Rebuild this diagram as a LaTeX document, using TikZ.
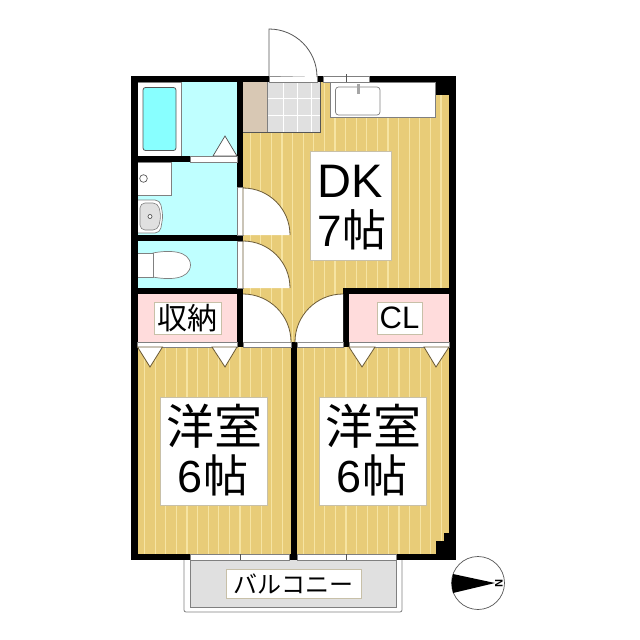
\documentclass[tikz,border=0pt]{standalone}
\usepackage{fontspec}
\setmainfont{Noto Sans CJK JP}
\newfontfamily\latinfont{Liberation Sans}
\definecolor{floorc}{HTML}{E8CC78}
\definecolor{stripec}{HTML}{F6E4A2}
\definecolor{aqua}{HTML}{BFFFFF}
\definecolor{tubc}{HTML}{88FFFF}
\definecolor{pinkc}{HTML}{FFDCDC}
\definecolor{tanc}{HTML}{D8C8B4}
\definecolor{tilec}{HTML}{E0E0E0}
\definecolor{balc}{HTML}{E0E0E0}
\definecolor{linec}{HTML}{555555}
\definecolor{doorc}{HTML}{6B5A35}
\definecolor{boxc}{HTML}{C8C0A8}
\tikzset{
  wall/.style={fill=black,draw=none},
  fixture/.style={fill=white,draw=linec,line width=0.7pt},
  doorleaf/.style={fill=white,draw=doorc,line width=0.8pt},
  strip/.style={fill=white,draw=gray,line width=0.7pt},
  labelbox/.style={fill=white,draw=boxc,line width=0.7pt,inner sep=0pt,align=center},
}
\begin{document}
\begin{tikzpicture}[x=1pt,y=-1pt]
\useasboundingbox (0,0) rectangle (640,640);
\fill[white] (0,0) rectangle (640,640);
% balcony
\draw[draw=gray,fill=white,line width=0.8pt,rounded corners=2pt] (184,556) rectangle (402,612);
\draw[draw=gray,fill=balc,line width=0.7pt] (190,556) rectangle (396,607);
% floors
\fill[floorc] (137,82) rectangle (449,554);
\foreach \i in {0,...,18} {\fill[stripec] ({249.5+10.6*\i},82) rectangle ({250.7+10.6*\i},347);}
\foreach \i in {0,...,29} {\fill[stripec] ({144+10.6*\i},347) rectangle ({145.2+10.6*\i},554);}
% wet rooms
\fill[aqua] (137,82) rectangle (237,288);
\fill[pinkc] (137,294) rectangle (237,342);
\fill[pinkc] (349,294) rectangle (449,342);
% bath
\draw[fixture,draw=gray] (137,82) rectangle (181,156);
\draw[draw=linec,fill=tubc,line width=0.8pt,rounded corners=2.5pt] (143,87.5) rectangle (176,150.5);
\draw[fixture] (213,156) -- (225,136) -- (237,156) -- cycle;
% wash
\draw[fixture,draw=gray] (137,162) rectangle (171,195.5);
\draw[fixture] (143.5,178.5) circle (3.8);
\draw[fixture,draw=gray,rounded corners=5pt] (137,200) -- (160,200) -- (163,216) -- (160,233) -- (137,233);
\draw[draw=gray,fill=tilec,line width=0.6pt,rounded corners=5pt] (140,203) -- (158,203) -- (161,216) -- (158,230) -- (140,230) -- cycle;
\draw[fixture] (150,216.5) circle (2);
% toilet
\draw[fixture,draw=gray] (153,253) .. controls (168,250) and (190,250) .. (190.5,265) .. controls (190,280) and (168,280) .. (153,277) -- cycle;
\draw[fixture,draw=gray] (137,253) rectangle (153,277);
% entry
\fill[tanc] (243,82) rectangle (267,132);
\fill[tilec] (267,82) rectangle (320,132);
\foreach \x in {283,297,311} {\draw[white,line width=0.8pt] (\x,82) -- (\x,132);}
\foreach \y in {98,115} {\draw[white,line width=0.8pt] (267,\y) -- (320,\y);}
\draw[linec,line width=0.7pt] (243,132) -- (320,132) -- (320,82);
\draw[gray,line width=0.7pt] (267,82) -- (267,132);
% kitchen
\draw[fixture,draw=gray] (330,82) rectangle (435,117);
\draw[draw=gray,fill=white,line width=0.7pt,rounded corners=3pt] (335.5,87) rectangle (380,115);
\fill[gray!70] (356.5,84) rectangle (359.5,93.5);
% walls
\fill[wall] (131,76) rectangle (269,82);
\fill[wall] (317,76) rectangle (323,82);
\fill[wall] (369,76) rectangle (456,82);
\fill[wall] (436,82) rectangle (456,95);
\fill[wall] (449,76) rectangle (456,560);
\fill[wall] (131,76) rectangle (137.5,560);
\fill[wall] (131,554) rectangle (190,560);
\fill[wall] (289,554) rectangle (297,560);
\fill[wall] (396,554) rectangle (456,560);
\fill[wall] (436,541) rectangle (449,554);
\fill[wall] (444,533) rectangle (449,541);
\fill[wall] (137,156) rectangle (190,162);
\fill[wall] (237,82) rectangle (243,187);
\fill[wall] (137,235) rectangle (243,241);
\fill[wall] (137,288) rectangle (243,294);
\fill[wall] (237,288) rectangle (243,347);
\fill[wall] (291,342) rectangle (297,560);
\fill[wall] (343,288) rectangle (456,294);
\fill[wall] (343,288) rectangle (349,347);
% white strips
\draw[strip] (190,156) rectangle (237,162);
\draw[strip] (237,187) rectangle (243,235);
\draw[strip] (237,241) rectangle (243,288);
\draw[strip] (137,342) rectangle (237,347);
\draw[strip] (349,342) rectangle (449,347);
\draw[strip] (243,342) rectangle (291,347);
\draw[strip] (297,342) rectangle (343,347);
\draw[strip] (269,76) rectangle (317,82);
\draw[strip] (323,76) rectangle (369,82);
\draw[linec,line width=0.7pt] (346,74) -- (346,82);
\draw[strip] (190,554) rectangle (289,560);
\draw[linec,line width=0.7pt] (240,554) -- (240,560);
\draw[strip] (297,554) rectangle (396,560);
\draw[linec,line width=0.7pt] (346,554) -- (346,560);
% door leaves
\draw[doorleaf,fill=white,draw=linec] (269,76) -- (269,29) arc[start angle=-90,end angle=0,radius=48];
\draw[doorleaf] (243,235) -- (243,188) arc[start angle=-90,end angle=0,radius=47];
\draw[doorleaf] (243,288) -- (243,241) arc[start angle=-90,end angle=0,radius=47];
\fill[white] (243,342) -- (243,294) arc[start angle=-90,end angle=0,radius=48] -- cycle;
\draw[doorc,line width=0.8pt] (243,294) arc[start angle=-90,end angle=0,radius=48];
\fill[white] (343,342) -- (343,294) arc[start angle=-90,end angle=-180,radius=48] -- cycle;
\draw[doorc,line width=0.8pt] (343,294) arc[start angle=-90,end angle=-180,radius=48];
% closet triangles
\draw[doorleaf] (137.5,347) -- (150,367) -- (162.5,347) -- cycle;
\draw[doorleaf] (212,347) -- (225,367) -- (237,347) -- cycle;
\draw[doorleaf] (349,347) -- (362,367) -- (375,347) -- cycle;
\draw[doorleaf] (424,347) -- (436,367) -- (449,347) -- cycle;
% labels
\node[labelbox,minimum width=81pt,minimum height=109pt] (dk) at (351,206) {};
\node[font=\latinfont\fontsize{47}{47}\selectfont] (dkt) at (350.5,181) {DK};
\node[font=\fontsize{44}{44}\selectfont] (dkn) at (352,230) {\latinfont 7\rmfamily 帖};
\node[labelbox,minimum width=107pt,minimum height=108pt] (r1) at (213.5,451) {};
\node[font=\fontsize{48}{48}\selectfont] (r1a) at (214,426) {洋室};
\node[font=\fontsize{45}{45}\selectfont] (r1b) at (213,475.5) {\latinfont 6\rmfamily 帖};
\node[labelbox,minimum width=107pt,minimum height=108pt] (r2) at (373,451) {};
\node[font=\fontsize{48}{48}\selectfont] (r2a) at (373,426) {洋室};
\node[font=\fontsize{45}{45}\selectfont] (r2b) at (372,475.5) {\latinfont 6\rmfamily 帖};
\node[labelbox,minimum width=67pt,minimum height=32pt,font=\fontsize{30}{30}\selectfont] (st) at (187.5,318) {収納};
\node[labelbox,minimum width=45pt,minimum height=32pt,font=\latinfont\fontsize{31}{31}\selectfont] (cl) at (399.5,318) {CL};
\node[labelbox,minimum width=135pt,minimum height=29pt,font=\fontsize{24}{24}\selectfont] (bal) at (293.5,583.5) {バルコニー};
% compass
\draw[fill=white,draw=linec,line width=0.7pt] (478,583) circle (26.5);
\fill[black] (453,574) -- (495,583) -- (453,593) .. controls (451.5,587) and (451.5,580) .. (453,574);
\node[font=\latinfont\bfseries\fontsize{11}{11}\selectfont,rotate=-90,inner sep=0pt] (north) at (499,583) {N};
\end{tikzpicture}
\end{document}
